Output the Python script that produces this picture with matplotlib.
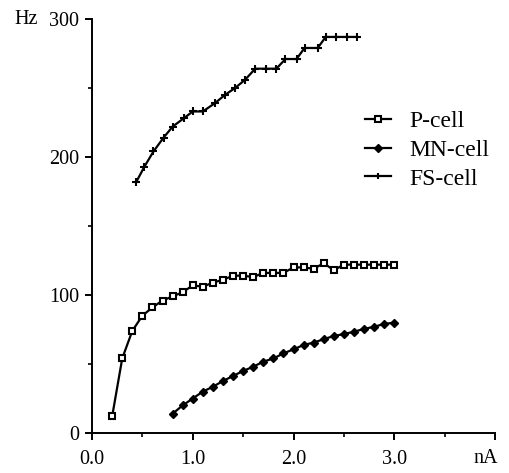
import matplotlib
matplotlib.use('Agg')
import matplotlib.pyplot as plt
from matplotlib.ticker import MultipleLocator

plt.rcParams['font.family'] = ['Liberation Serif', 'DejaVu Serif']

# current (nA) and firing rate (Hz)
p_x = [0.2, 0.3, 0.4, 0.5, 0.6, 0.7, 0.8, 0.9, 1.0, 1.1, 1.2, 1.3, 1.4, 1.5, 1.6,
       1.7, 1.8, 1.9, 2.0, 2.1, 2.2, 2.3, 2.4, 2.5, 2.6, 2.7, 2.8, 2.9, 3.0]
p_y = [12, 54, 74, 85, 91, 96, 99, 102, 107, 106, 109, 111, 114, 114, 113,
       116, 116, 116, 120, 120, 119, 123, 118, 122, 122, 122, 122, 122, 122]

mn_x = [0.8, 0.9, 1.0, 1.1, 1.2, 1.3, 1.4, 1.5, 1.6, 1.7, 1.8, 1.9, 2.0,
        2.1, 2.2, 2.3, 2.4, 2.5, 2.6, 2.7, 2.8, 2.9, 3.0]
mn_y = [14, 20, 25, 30, 33.5, 37.7, 41.3, 45, 48, 51.7, 54, 57.7, 60.6,
        63.8, 65.5, 68, 70.3, 71.7, 73.4, 75.4, 77, 79, 80]

fs_x = [0.44, 0.52, 0.61, 0.71, 0.80, 0.91, 1.0, 1.1, 1.22, 1.32, 1.42, 1.52,
        1.62, 1.73, 1.83, 1.92, 2.03, 2.11, 2.24, 2.32, 2.42, 2.53, 2.63]
fs_y = [182, 193, 204, 214, 222, 228, 233, 233, 239, 245, 250, 256,
        264, 264, 264, 271, 271, 279, 279, 287, 287, 287, 287]

fig = plt.figure(figsize=(5.09, 4.73), dpi=100)
ax = fig.add_axes([92/509, 1 - 433/473, 403/509, 414/473])

ax.plot(p_x, p_y, color='black', lw=1.6, marker='s', ms=5,
        mfc='white', mec='black', mew=1.5, label='P-cell')
ax.plot(mn_x, mn_y, color='black', lw=1.6, marker='D', ms=4.5,
        mfc='black', mec='black', label='MN-cell')
ax.plot(fs_x, fs_y, color='black', lw=1.6, marker='+', ms=6, mew=1.5,
        label='FS-cell')

ax.set_xlim(0, 4.0)
ax.set_ylim(0, 300)
ax.spines['top'].set_visible(False)
ax.spines['right'].set_visible(False)
ax.spines['left'].set_linewidth(1.4)
ax.spines['bottom'].set_linewidth(1.4)

ax.set_xticks([0, 1, 2, 3, 4])
ax.set_xticklabels(['0.0', '1.0', '2.0', '3.0', ''])
ax.set_yticks([0, 100, 200, 300])
ax.xaxis.set_minor_locator(MultipleLocator(0.5))
ax.yaxis.set_minor_locator(MultipleLocator(50))
ax.tick_params(which='major', direction='out', length=5, width=1.4,
               labelsize=14.5, pad=4)
ax.tick_params(which='minor', direction='out', length=3, width=1.2)
ax.tick_params(axis='x', which='major', pad=7)

fig.text(14/509, 1 - 19/473, 'Hz', fontsize=14.5, va='center', ha='left')
fig.text(486/509, 1 - 458/473, 'nA', fontsize=14.5, va='center', ha='center')

ax.legend(loc='upper left', bbox_to_anchor=(0.677, 0.778), frameon=False,
          fontsize=17, handlelength=1.1, handletextpad=0.8, markerscale=0.8,
          labelspacing=0.3, borderpad=0, borderaxespad=0)

fig.savefig('out.png', dpi=100)
